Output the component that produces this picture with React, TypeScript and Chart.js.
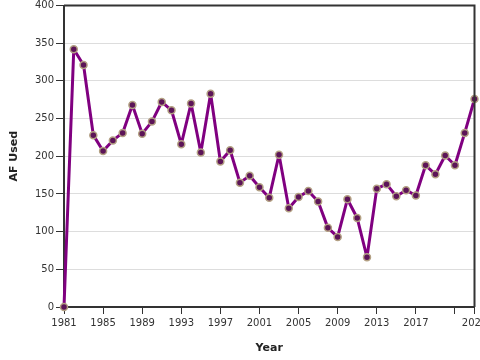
import React, { useEffect, useRef } from "react";
import { Chart, registerables } from "chart.js";

Chart.register(...registerables);

const years: number[] = [
  1981, 1982, 1983, 1984, 1985, 1986, 1987, 1988, 1989, 1990,
  1991, 1992, 1993, 1994, 1995, 1996, 1997, 1998, 1999, 2000,
  2001, 2002, 2003, 2004, 2005, 2006, 2007, 2008, 2009, 2010,
  2011, 2012, 2013, 2014, 2015, 2016, 2017, 2018, 2019, 2020,
  2021, 2022, 2023,
];
const afUsed: number[] = [
  0, 342, 321, 228, 207, 221, 231, 268, 230, 246,
  272, 261, 216, 270, 205, 283, 193, 208, 165, 174,
  159, 145, 202, 131, 146, 154, 140, 105, 93, 143,
  118, 66, 157, 163, 147, 155, 148, 188, 176, 201,
  188, 231, 276,
];
const xTicks: number[] = [1981, 1985, 1989, 1993, 1997, 2001, 2005, 2009, 2013, 2017, 2021, 2023];
const hiddenXLabels: number[] = [2021];
const yTicks: number[] = [0, 50, 100, 150, 200, 250, 300, 350, 400];

const FONT = "'DejaVu Sans', sans-serif";

const boxPlugin = {
  id: "boxBorder",
  afterDatasetsDraw(chart: any) {
    const { ctx, chartArea } = chart;
    ctx.save();
    ctx.strokeStyle = "#333333";
    ctx.lineWidth = 2;
    ctx.beginPath();
    ctx.moveTo(chartArea.left, chartArea.top);
    ctx.lineTo(chartArea.right, chartArea.top);
    ctx.lineTo(chartArea.right, chartArea.bottom);
    ctx.stroke();
    ctx.restore();
  },
};

export default function App() {
  const ref = useRef<HTMLCanvasElement | null>(null);
  useEffect(() => {
    if (!ref.current) return;
    const chart = new Chart(ref.current, {
      type: "line",
      data: {
        datasets: [
          {
            data: years.map((y, i) => ({ x: y, y: afUsed[i] })),
            borderColor: "#800080",
            borderWidth: 3,
            borderJoinStyle: "round",
            borderCapStyle: "round",
            pointRadius: 3.5,
            pointBorderWidth: 1.5,
            pointBackgroundColor: "#5c1458",
            pointBorderColor: "#b3a083",
            tension: 0,
            clip: false as any,
          },
        ],
      },
      options: {
        animation: false,
        responsive: false,
        maintainAspectRatio: false,
        layout: { padding: { top: 4, right: 5, left: 0, bottom: 0 } },
        plugins: { legend: { display: false }, tooltip: { enabled: false } },
        scales: {
          x: {
            type: "linear",
            min: 1981,
            max: 2023,
            afterBuildTicks: (s: any) => {
              s.ticks = xTicks.map((v) => ({ value: v }));
            },
            afterFit: (s: any) => {
              s.height = 53;
              s.paddingLeft = 0;
              s.paddingRight = 0;
            },
            ticks: {
              autoSkip: false,
              maxRotation: 0,
              padding: 3,
              color: "#333333",
              font: { family: FONT, size: 10 },
              callback: (v: any) => (hiddenXLabels.includes(Number(v)) ? "" : String(v)),
            },
            grid: { drawOnChartArea: false, tickLength: 7, tickColor: "#333333", tickWidth: 1 },
            border: { color: "#333333", width: 2 },
            title: {
              display: true,
              text: "Year",
              color: "#222222",
              font: { family: FONT, size: 11, weight: "bold" },
              padding: { top: 4, bottom: 5 },
            },
          },
          y: {
            type: "linear",
            min: 0,
            max: 400,
            afterBuildTicks: (s: any) => {
              s.ticks = yTicks.map((v) => ({ value: v }));
            },
            afterFit: (s: any) => {
              s.width = 64;
              s.paddingTop = 0;
              s.paddingBottom = 0;
            },
            ticks: {
              padding: 2,
              color: "#333333",
              font: { family: FONT, size: 10 },
            },
            grid: { color: "#dddddd", lineWidth: 1, tickLength: 8, tickColor: "#333333", tickWidth: 1 },
            border: { color: "#333333", width: 2 },
            title: {
              display: true,
              text: "AF Used",
              color: "#222222",
              font: { family: FONT, size: 11, weight: "bold" },
              padding: { top: 8, bottom: 4 },
            },
          },
        },
      },
      plugins: [boxPlugin],
    } as any);
    return () => chart.destroy();
  }, []);
  return (
    <div style={{ position: "fixed", left: 0, top: 0, width: 480, height: 360, background: "#ffffff" }}>
      <canvas ref={ref} width={480} height={360} style={{ width: 480, height: 360 }} />
    </div>
  );
}
